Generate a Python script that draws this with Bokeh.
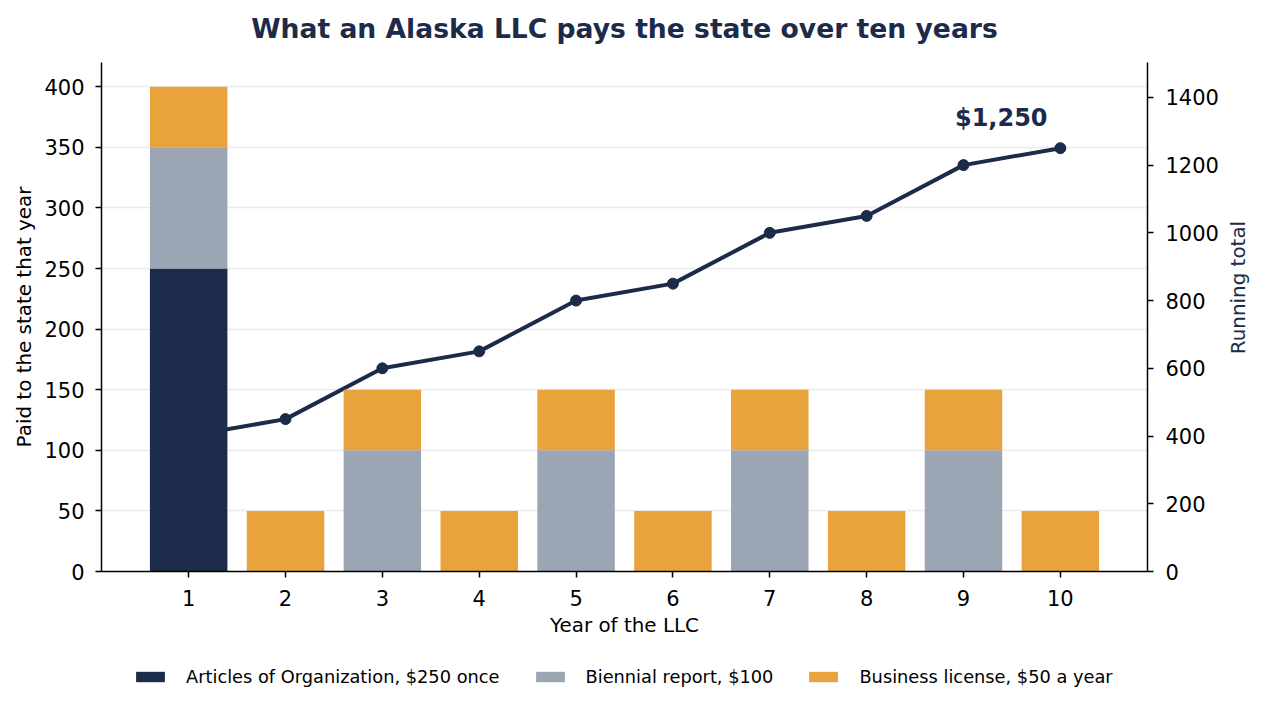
import math
from bokeh.plotting import figure
from bokeh.layouts import column, row
from bokeh.models import (ColumnDataSource, LinearAxis, Range1d, FixedTicker,
                          Legend, LegendItem, Label)
from bokeh.embed import file_html
from bokeh.resources import INLINE

NAVY = "#1c2b4a"
GRAY = "#9ca5b3"
ORANGE = "#e8a33d"
FONT = "DejaVu Sans"

title_text = "What an Alaska LLC pays the state over ten years"
years = [1, 2, 3, 4, 5, 6, 7, 8, 9, 10]
articles = [250, 0, 0, 0, 0, 0, 0, 0, 0, 0]
biennial = [100, 0, 100, 0, 100, 0, 100, 0, 100, 0]
license_fee = [50, 50, 50, 50, 50, 50, 50, 50, 50, 50]
running_total = [400, 450, 600, 650, 800, 850, 1000, 1050, 1200, 1250]

series_names = ["Articles of Organization, $250 once",
                "Biennial report, $100",
                "Business license, $50 a year"]
series_colors = [NAVY, GRAY, ORANGE]
left_ticks = [0, 50, 100, 150, 200, 250, 300, 350, 400]
right_ticks = [0, 200, 400, 600, 800, 1000, 1200, 1400]

source = ColumnDataSource(data=dict(year=years, articles=articles,
                                    biennial=biennial, license=license_fee,
                                    total=running_total))

# title strip
tf = figure(width=1262, height=62, output_backend="svg", toolbar_location=None,
            x_range=Range1d(0, 1), y_range=Range1d(0, 62), title=None,
            x_axis_type=None, y_axis_type=None, min_border=0,
            min_border_left=101, min_border_right=115)
tf.outline_line_color = None
tf.add_layout(Label(x=0.5, y=34, text=title_text, text_font=FONT,
                    text_font_size="26.6px", text_font_style="bold",
                    text_color=NAVY, text_align="center", text_baseline="middle"))

p = figure(frame_width=1046, frame_height=509, output_backend="svg",
           toolbar_location=None, title=None,
           x_range=Range1d(0.1, 10.9), y_range=Range1d(0, 420),
           min_border_left=101, min_border_right=78, min_border_top=0,
           min_border_bottom=70)

p.extra_y_ranges = {"total": Range1d(0, 1503)}

# running total line (drawn under the bars)
p.line("year", "total", source=source, y_range_name="total",
       line_width=4, color=NAVY)
p.scatter("year", "total", source=source, y_range_name="total",
          size=11, color=NAVY)

bars = p.vbar_stack(["articles", "biennial", "license"], x="year", width=0.8,
                    source=source, color=series_colors, line_width=0)

p.add_layout(Label(x=9.39, y=1340, y_range_name="total", text="$1,250",
                   text_font=FONT, text_font_size="24px", text_font_style="bold",
                   text_color=NAVY, text_align="center", text_baseline="middle"))

right_axis = LinearAxis(y_range_name="total")
p.add_layout(right_axis, "right")

for ax in p.axis:
    ax.major_label_text_font = FONT
    ax.major_label_text_font_size = "21px"
    ax.major_label_text_color = "black"
    ax.axis_label_text_font = FONT
    ax.axis_label_text_font_size = "19.9px"
    ax.axis_label_text_font_style = "normal"
    ax.axis_label_text_color = "black"
    ax.axis_line_color = "black"
    ax.axis_line_width = 1.5
    ax.major_tick_line_color = "black"
    ax.major_tick_line_width = 1.5
    ax.major_tick_in = 0
    ax.major_tick_out = 6
    ax.minor_tick_line_color = None

p.xaxis.ticker = FixedTicker(ticks=years)
p.xaxis.axis_label = "Year of the LLC"
p.xaxis.major_label_standoff = 12
p.xaxis.axis_label_standoff = 5

left_axis = p.yaxis[0]
left_axis.ticker = FixedTicker(ticks=left_ticks)
left_axis.axis_label = "Paid to the state that year"
left_axis.major_label_standoff = 11
left_axis.axis_label_standoff = 5

right_axis.ticker = FixedTicker(ticks=right_ticks)
right_axis.major_label_standoff = 12

p.xgrid.grid_line_color = None
p.ygrid.grid_line_color = "#ebebef"
p.ygrid.grid_line_width = 1.3
p.outline_line_color = None

# strip to the right holding the right axis title, read bottom to top
rf = figure(width=37, height=579, output_backend="svg", toolbar_location=None,
            x_range=Range1d(0, 37), y_range=Range1d(0, 579), title=None,
            x_axis_type=None, y_axis_type=None, min_border=0)
rf.outline_line_color = None
rf.add_layout(Label(x=13, y=323, text="Running total", angle=math.pi / 2,
                    text_font=FONT, text_font_size="19.9px", text_color=NAVY,
                    text_align="center", text_baseline="middle"))

# legend strip under the chart (swatch renderers sit outside the visible range)
lg = figure(width=1262, height=60, output_backend="svg", toolbar_location=None,
            x_range=Range1d(0, 1), y_range=Range1d(0, 1), title=None,
            x_axis_type=None, y_axis_type=None, min_border=0,
            min_border_left=101, min_border_right=115)
lg.outline_line_color = None
swatches = [lg.vbar(x=[-1], top=[0], width=0.1, color=c, line_width=0)
            for c in series_colors]
legend = Legend(items=[LegendItem(label=n, renderers=[r])
                       for n, r in zip(series_names, swatches)],
                orientation="horizontal", location=(31, 14),
                glyph_width=36, glyph_height=13, spacing=32,
                label_text_font=FONT, label_text_font_size="17.8px",
                label_text_color="black",
                label_standoff=18, border_line_color=None,
                background_fill_alpha=0, margin=0, padding=5)
lg.add_layout(legend)

open("out.html", "w").write(file_html(column(tf, row(p, rf), lg), INLINE))
